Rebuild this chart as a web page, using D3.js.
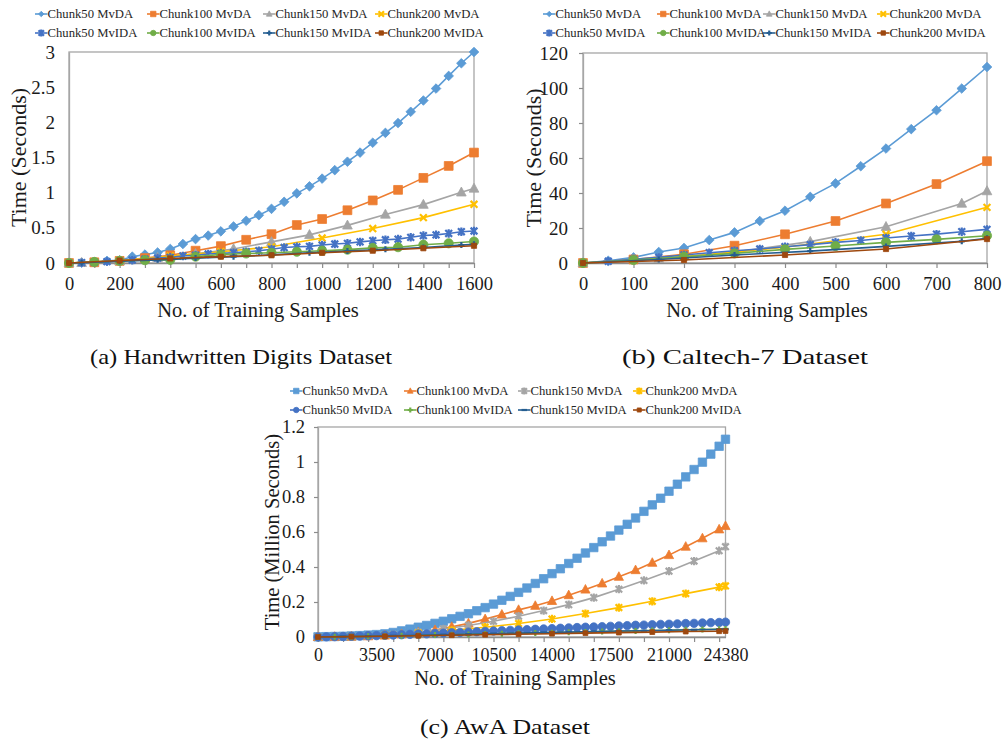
<!DOCTYPE html>
<html>
<head>
<meta charset="utf-8">
<script src="https://cdn.jsdelivr.net/npm/d3@7"></script>
<style>
  body { margin: 0; background: #fff; }
  svg text { font-family: "Liberation Serif", "Times New Roman", serif; fill: #1a1a1a; }
</style>
</head>
<body>
<svg id="fig" width="1005" height="742"></svg>
<script>
// ---------- series names and colours ----------
const seriesNames = ["Chunk50 MvDA", "Chunk100 MvDA", "Chunk150 MvDA", "Chunk200 MvDA",
                     "Chunk50 MvIDA", "Chunk100 MvIDA", "Chunk150 MvIDA", "Chunk200 MvIDA"];
const seriesColors = ["#5B9BD5", "#ED7D31", "#A5A5A5", "#FFC000",
                      "#4472C4", "#70AD47", "#255E91", "#9E480E"];

// ---------- (a) Handwritten Digits ----------
const aX50  = [0,50,100,150,200,250,300,350,400,450,500,550,600,650,700,750,800,850,900,950,1000,1050,1100,1150,1200,1250,1300,1350,1400,1450,1500,1550,1600];
const aX100 = [0,100,200,300,400,500,600,700,800,900,1000,1100,1200,1300,1400,1500,1600];
const aX150 = [0,50,200,350,500,650,800,950,1100,1250,1400,1550,1600];
const aX200 = [0,200,400,600,800,1000,1200,1400,1600];
const aMvDA50   = [0,0.003,0.01,0.03,0.04,0.09,0.12,0.15,0.2,0.27,0.34,0.39,0.45,0.52,0.6,0.68,0.77,0.87,0.99,1.09,1.2,1.32,1.44,1.57,1.71,1.85,1.99,2.15,2.31,2.48,2.66,2.84,3.0];
const aMvDA100  = [0,0.01,0.03,0.07,0.11,0.175,0.24,0.33,0.41,0.54,0.625,0.75,0.89,1.04,1.21,1.38,1.57];
const aMvDA150  = [0,0.003,0.03,0.075,0.13,0.2,0.3,0.4,0.535,0.69,0.83,1.005,1.06];
const aMvDA200  = [0,0.03,0.1,0.16,0.23,0.355,0.49,0.645,0.835];
const aMvIDA50  = [0,0.005,0.01,0.02,0.03,0.04,0.055,0.07,0.08,0.1,0.11,0.128,0.137,0.146,0.16,0.175,0.195,0.22,0.23,0.237,0.255,0.27,0.28,0.3,0.317,0.33,0.34,0.365,0.39,0.4,0.42,0.445,0.455];
const aMvIDA100 = [0,0.015,0.03,0.04,0.045,0.09,0.12,0.135,0.145,0.16,0.175,0.19,0.215,0.225,0.26,0.28,0.305];
const aMvIDA150 = [0,0.003,0.025,0.045,0.07,0.09,0.115,0.145,0.17,0.195,0.22,0.255,0.265];
const aMvIDA200 = [0,0.035,0.065,0.09,0.11,0.145,0.175,0.21,0.245];
const aYTicks = [0,0.5,1,1.5,2,2.5,3];
const aXLabels = [0,200,400,600,800,1000,1200,1400,1600];
const aXTicks = [0,100,200,300,400,500,600,700,800,900,1000,1100,1200,1300,1400,1500,1600];

// ---------- (b) Caltech-7 ----------
const bX50  = [0,50,100,150,200,250,300,350,400,450,500,550,600,650,700,750,800];
const bX100 = [0,100,200,300,400,500,600,700,800];
const bX150 = [0,150,300,450,600,750,800];
const bX200 = [0,200,400,600,800];
const bMvDA50   = [0,1.3,3.2,6.3,8.6,13.1,17.5,24.0,29.9,37.8,45.5,55.3,65.4,76.5,87.3,99.7,112.0];
const bMvDA100  = [0,2.0,5.0,9.9,16.4,24.0,34.0,45.1,58.2];
const bMvDA150  = [0,2.4,6.2,12.2,20.7,34.0,41.1];
const bMvDA200  = [0,3.5,9.0,16.4,31.8];
const bMvIDA50  = [0,1.0,2.1,3.2,4.6,5.9,7.0,8.0,9.3,10.5,11.8,12.9,14.3,15.4,16.5,17.9,19.2];
const bMvIDA100 = [0,1.7,3.6,5.5,7.8,9.7,11.8,13.5,15.6];
const bMvIDA150 = [0,2.0,4.6,6.8,9.5,12.4,14.1];
const bMvIDA200 = [0,1.7,4.6,8.0,13.7];
const bYTicks = [0,20,40,60,80,100,120];
const bXLabels = [0,100,200,300,400,500,600,700,800];
const bXTicks = [0,100,200,300,400,500,600,700,800];

// ---------- (c) AwA ----------
const cX50  = [0,500,1000,1500,2000,2500,3000,3500,4000,4500,5000,5500,6000,6500,7000,7500,8000,8500,9000,9500,10000,10500,11000,11500,12000,12500,13000,13500,14000,14500,15000,15500,16000,16500,17000,17500,18000,18500,19000,19500,20000,20500,21000,21500,22000,22500,23000,23500,24000,24380];
const cX100 = [0,1000,2000,3000,4000,5000,6000,7000,8000,9000,10000,11000,12000,13000,14000,15000,16000,17000,18000,19000,20000,21000,22000,23000,24000,24380];
const cX150 = [0,1500,3000,4500,6000,7500,9000,10500,12000,13500,15000,16500,18000,19500,21000,22500,24000,24380];
const cX200 = [0,2000,4000,6000,8000,10000,12000,14000,16000,18000,20000,22000,24000,24380];
const cMvDA50   = [0.001,0.002,0.003,0.004,0.006,0.008,0.011,0.014,0.018,0.026,0.035,0.045,0.056,0.066,0.078,0.09,0.104,0.118,0.133,0.15,0.168,0.188,0.21,0.232,0.255,0.28,0.306,0.333,0.362,0.39,0.42,0.45,0.48,0.511,0.544,0.577,0.611,0.644,0.68,0.718,0.755,0.793,0.833,0.873,0.915,0.957,0.999,1.045,1.09,1.13];
const cMvDA100  = [0,0.001,0.002,0.004,0.008,0.015,0.026,0.04,0.058,0.078,0.102,0.128,0.155,0.178,0.206,0.239,0.271,0.306,0.344,0.382,0.424,0.468,0.516,0.564,0.615,0.634];
const cMvDA150  = [0,0.002,0.006,0.014,0.028,0.046,0.066,0.09,0.119,0.151,0.185,0.225,0.273,0.323,0.376,0.434,0.493,0.516];
const cMvDA200  = [0,0.003,0.01,0.022,0.038,0.056,0.077,0.103,0.134,0.168,0.204,0.248,0.285,0.292];
const cMvIDA50  = [0,0.001,0.002,0.003,0.004,0.005,0.007,0.008,0.01,0.011,0.013,0.015,0.017,0.018,0.02,0.022,0.024,0.026,0.028,0.03,0.032,0.034,0.036,0.038,0.04,0.042,0.044,0.046,0.048,0.05,0.052,0.054,0.056,0.057,0.059,0.061,0.063,0.065,0.067,0.068,0.07,0.072,0.073,0.075,0.077,0.078,0.08,0.082,0.083,0.085];
const cMvIDA100 = [0,0.001,0.002,0.004,0.005,0.007,0.009,0.011,0.013,0.015,0.017,0.019,0.021,0.023,0.025,0.027,0.029,0.031,0.033,0.035,0.037,0.039,0.041,0.043,0.045,0.046];
const cMvIDA150 = [0,0.002,0.004,0.007,0.01,0.013,0.016,0.019,0.022,0.025,0.028,0.031,0.034,0.036,0.039,0.041,0.043,0.044];
const cMvIDA200 = [0,0.002,0.004,0.007,0.01,0.013,0.016,0.019,0.022,0.025,0.028,0.031,0.033,0.034];
const cYTicks = [0,0.2,0.4,0.6,0.8,1,1.2];
const cXLabels = [0,3500,7000,10500,14000,17500,21000,24380];
const cXTicks = [0,1500,3000,4500,6000,7500,9000,10500,12000,13500,15000,16500,18000,19500,21000,22500,24000];

// ---------- drawing helpers ----------
const svg = d3.select("#fig");
const FILLED = new Set(["diamond", "square", "triangle", "circle"]);

function markerPath(shape, r) {
  switch (shape) {
    case "diamond":  return `M0,${-r}L${r},0L0,${r}L${-r},0Z`;
    case "square":   return `M${-r},${-r}h${2*r}v${2*r}h${-2*r}Z`;
    case "triangle": return `M0,${-r*1.15}L${r*1.05},${r*0.8}L${-r*1.05},${r*0.8}Z`;
    case "circle":   return `M${r},0A${r},${r} 0 1,1 ${-r},0A${r},${r} 0 1,1 ${r},0Z`;
    case "x":        return `M${-r},${-r}L${r},${r}M${-r},${r}L${r},${-r}`;
    case "star":     return `M${-r},${-r}L${r},${r}M${-r},${r}L${r},${-r}M0,${-r*1.25}L0,${r*1.25}`;
    case "plus":     return `M${-r},0L${r},0M0,${-r}L0,${r}`;
    default:         return `M${-r},0L${r},0`;
  }
}

function drawMarkers(g, pts, shape, r, color) {
  g.selectAll(null).data(pts).join("path")
    .attr("transform", d => `translate(${d[0]},${d[1]})`)
    .attr("d", markerPath(shape, r))
    .attr("fill", FILLED.has(shape) ? color : "none")
    .attr("stroke", color)
    .attr("stroke-width", FILLED.has(shape) ? 0.8 : 2.2)
    .attr("stroke-linejoin", "round");
}

function drawPanel(cfg) {
  const g = svg.append("g");
  const x = d3.scaleLinear().domain(cfg.xDomain).range([cfg.left, cfg.right]);
  const y = d3.scaleLinear().domain(cfg.yDomain).range([cfg.bottom, cfg.top]);

  // plot frame
  g.append("rect")
    .attr("x", cfg.left).attr("y", cfg.top)
    .attr("width", cfg.right - cfg.left).attr("height", cfg.bottom - cfg.top)
    .attr("fill", "none").attr("stroke", "#a6a6a6").attr("stroke-width", 1.3);

  // x tick marks
  const xt = g.append("g").attr("transform", `translate(0,${cfg.bottom})`)
    .call(d3.axisBottom(x).tickValues(cfg.xTicks).tickFormat("").tickSizeInner(5).tickSizeOuter(0));
  xt.select(".domain").attr("stroke", "#8c8c8c").attr("stroke-width", 1.3);
  xt.selectAll(".tick line").attr("stroke", "#8c8c8c").attr("stroke-width", 1.2);

  // x tick labels
  const xl = g.append("g").attr("transform", `translate(0,${cfg.bottom})`)
    .call(d3.axisBottom(x).tickValues(cfg.xLabels).tickFormat(d3.format("d")).tickSize(0).tickPadding(cfg.xPad));
  xl.select(".domain").remove();
  xl.selectAll("text").attr("font-size", cfg.xTickSize).attr("font-family", null).style("fill", "#1a1a1a");

  // y ticks and labels
  const yl = g.append("g").attr("transform", `translate(${cfg.left},0)`)
    .call(d3.axisLeft(y).tickValues(cfg.yTicks).tickFormat(d => String(+d.toFixed(2)))
      .tickSizeInner(cfg.yTickLen).tickSizeOuter(0).tickPadding(cfg.yPad - cfg.yTickLen));
  yl.select(".domain").attr("stroke", "#a6a6a6").attr("stroke-width", 1.3);
  yl.selectAll(".tick line").attr("stroke", "#8c8c8c").attr("stroke-width", 1.2);
  yl.selectAll("text").attr("font-size", cfg.yTickSize).attr("font-family", null).style("fill", "#1a1a1a");

  // axis titles
  g.append("text")
    .attr("transform", `translate(${cfg.yTitleX},${(cfg.top + cfg.bottom) / 2}) rotate(-90)`)
    .attr("text-anchor", "middle").attr("dy", "0.35em").attr("font-size", cfg.yTitleSize)
    .text(cfg.yTitle);
  g.append("text")
    .attr("x", cfg.xTitleX).attr("y", cfg.xTitleY)
    .attr("text-anchor", "middle").attr("dy", "0.35em").attr("font-size", 20.5)
    .text("No. of Training Samples");

  // series
  const line = d3.line().x(d => x(d[0])).y(d => y(d[1]));
  cfg.series.forEach((s, i) => {
    const pts = s.xs.map((v, k) => [v, s.ys[k]]);
    g.append("path").datum(pts)
      .attr("d", line).attr("fill", "none")
      .attr("stroke", seriesColors[i]).attr("stroke-width", 1.6);
    drawMarkers(g.append("g"), pts.map(p => [x(p[0]), y(p[1])]),
      cfg.shapes[i], cfg.sizes[i], seriesColors[i]);
  });

  // legend: two rows of four
  cfg.series.forEach((s, i) => {
    const lx = cfg.legendCols[i % 4];
    const ly = cfg.legendRows[Math.floor(i / 4)];
    const lg = g.append("g");
    lg.append("line").attr("x1", lx).attr("x2", lx + 12.5).attr("y1", ly).attr("y2", ly)
      .attr("stroke", seriesColors[i]).attr("stroke-width", 1.6);
    drawMarkers(lg, [[lx + 6.25, ly]], cfg.shapes[i], Math.min(cfg.sizes[i], 3.2) * 0.85, seriesColors[i]);
    lg.append("text")
      .attr("x", lx + 12.5).attr("y", ly).attr("dy", "0.35em")
      .attr("font-size", 12.7).style("fill", "#262626").text(seriesNames[i]);
  });

  // caption
  g.append("text")
    .attr("x", cfg.capX).attr("y", cfg.capY)
    .attr("text-anchor", "middle").attr("dy", "0.35em")
    .attr("font-size", 21).attr("textLength", cfg.capW).attr("lengthAdjust", "spacingAndGlyphs")
    .style("fill", "#111").text(cfg.caption);
}

const shapesAB = ["diamond", "square", "triangle", "x", "star", "circle", "plus", "square"];
const sizesAB  = [4.8, 4.4, 4.6, 3.4, 3.4, 4.6, 3.0, 2.6];

drawPanel({
  left: 69, right: 474, top: 52, bottom: 263,
  xDomain: [0, 1600], yDomain: [0, 3],
  xTicks: aXTicks, xLabels: aXLabels, yTicks: aYTicks,
  xPad: 14, yPad: 14, yTickLen: 0, xTickSize: 18.5, yTickSize: 19,
  yTitle: "Time (Seconds)", yTitleX: 18, yTitleSize: 22,
  xTitleX: 258, xTitleY: 310,
  shapes: shapesAB, sizes: sizesAB,
  series: [
    { xs: aX50,  ys: aMvDA50 },  { xs: aX100, ys: aMvDA100 },
    { xs: aX150, ys: aMvDA150 }, { xs: aX200, ys: aMvDA200 },
    { xs: aX50,  ys: aMvIDA50 }, { xs: aX100, ys: aMvIDA100 },
    { xs: aX150, ys: aMvIDA150 },{ xs: aX200, ys: aMvIDA200 }
  ],
  legendCols: [35, 147, 263, 375], legendRows: [14, 33],
  caption: "(a) Handwritten Digits Dataset", capX: 241, capY: 357, capW: 302
});

drawPanel({
  left: 583, right: 987, top: 53, bottom: 263,
  xDomain: [0, 800], yDomain: [0, 120],
  xTicks: bXTicks, xLabels: bXLabels, yTicks: bYTicks,
  xPad: 14, yPad: 15, yTickLen: 4, xTickSize: 18.5, yTickSize: 19,
  yTitle: "Time (Seconds)", yTitleX: 533, yTitleSize: 22,
  xTitleX: 767, xTitleY: 310,
  shapes: shapesAB, sizes: sizesAB,
  series: [
    { xs: bX50,  ys: bMvDA50 },  { xs: bX100, ys: bMvDA100 },
    { xs: bX150, ys: bMvDA150 }, { xs: bX200, ys: bMvDA200 },
    { xs: bX50,  ys: bMvIDA50 }, { xs: bX100, ys: bMvIDA100 },
    { xs: bX150, ys: bMvIDA150 },{ xs: bX200, ys: bMvIDA200 }
  ],
  legendCols: [543, 657, 763, 877], legendRows: [14, 33],
  caption: "(b) Caltech-7 Dataset", capX: 745, capY: 357, capW: 246
});

drawPanel({
  left: 318, right: 725.5, top: 427, bottom: 637,
  xDomain: [0, 24380], yDomain: [0, 1.2],
  xTicks: cXTicks, xLabels: cXLabels, yTicks: cYTicks,
  xPad: 11, yPad: 13, yTickLen: 4, xTickSize: 18, yTickSize: 18.5,
  yTitle: "Time (Million Seconds)", yTitleX: 272, yTitleSize: 20.5,
  xTitleX: 515, xTitleY: 678,
  shapes: ["square", "triangle", "star", "star", "circle", "plus", "dash", "square"],
  sizes: [4.2, 4.4, 3.3, 3.3, 4.2, 3.0, 3.2, 2.4],
  series: [
    { xs: cX50,  ys: cMvDA50 },  { xs: cX100, ys: cMvDA100 },
    { xs: cX150, ys: cMvDA150 }, { xs: cX200, ys: cMvDA200 },
    { xs: cX50,  ys: cMvIDA50 }, { xs: cX100, ys: cMvIDA100 },
    { xs: cX150, ys: cMvIDA150 },{ xs: cX200, ys: cMvIDA200 }
  ],
  legendCols: [290, 404, 518, 633], legendRows: [391, 410],
  caption: "(c) AwA Dataset", capX: 505, capY: 727, capW: 170
});
</script>
</body>
</html>
